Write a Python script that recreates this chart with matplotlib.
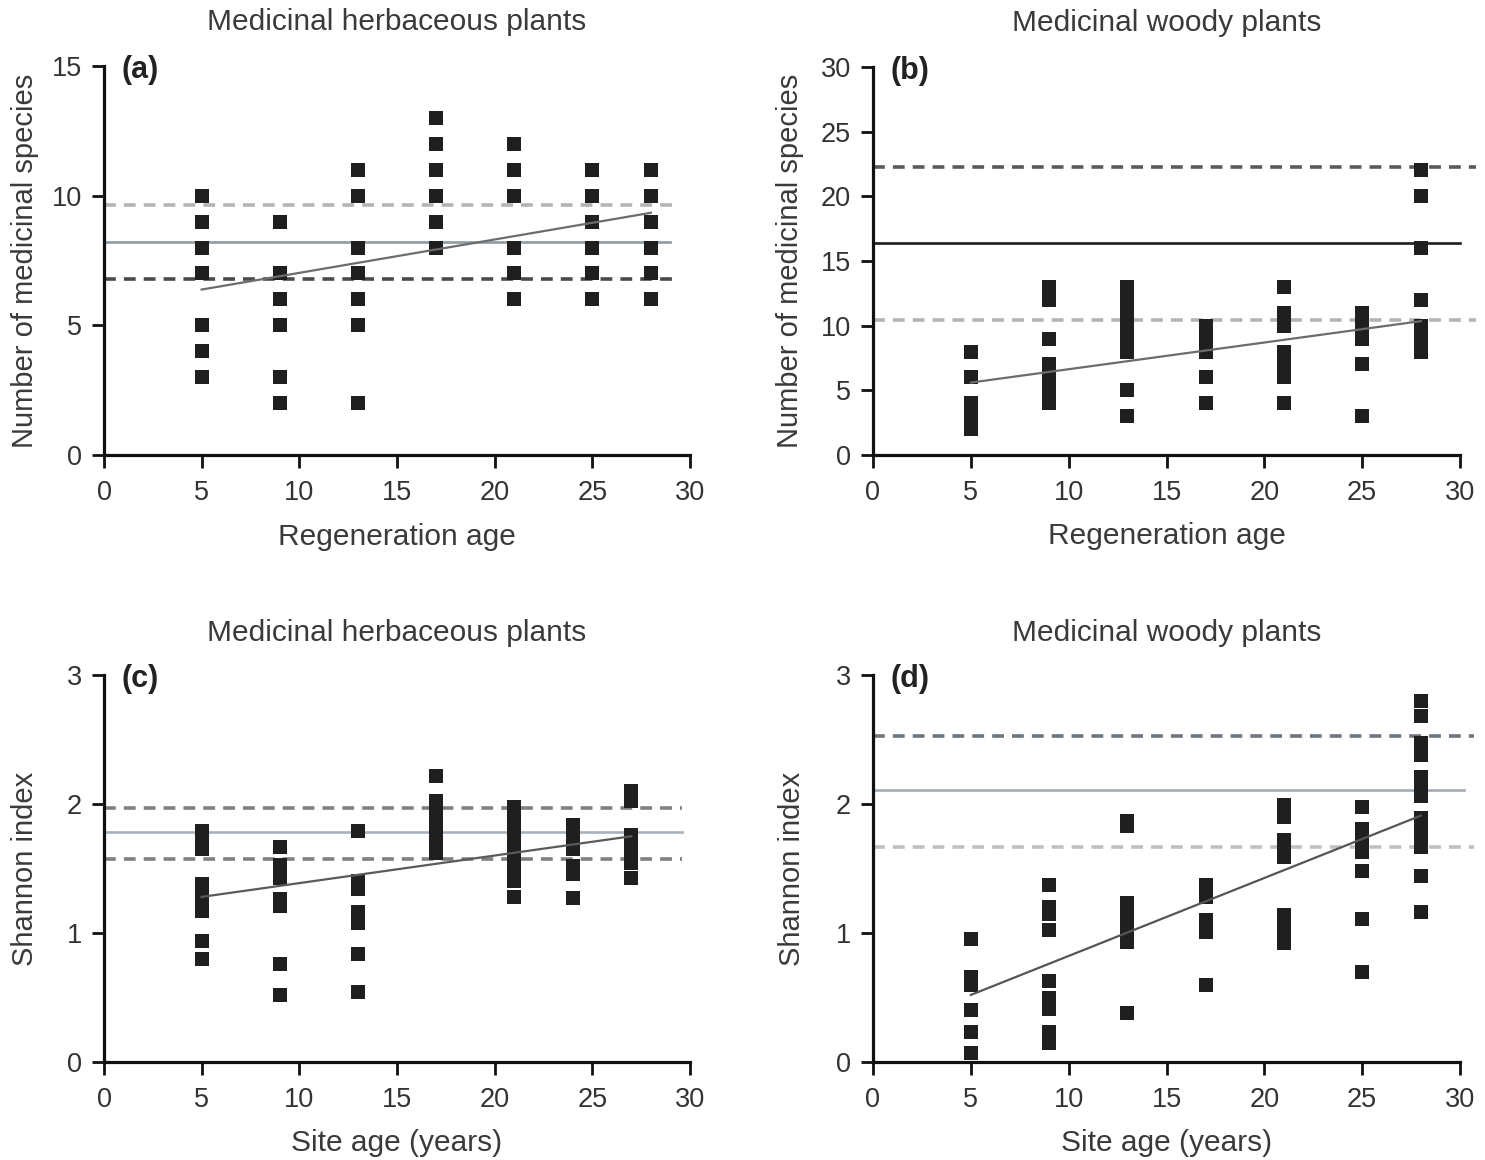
import matplotlib
matplotlib.use("Agg")
import matplotlib.pyplot as plt

plt.rcParams['font.family'] = ['Liberation Sans', 'DejaVu Sans']
plt.rcParams['lines.scale_dashes'] = False

# ---------------- data ----------------
# (a) herbaceous, number of species vs regeneration age
ages_a = [5, 9, 13, 17, 21, 25, 28]
vals_a = [
    [10, 9, 8, 7, 5, 4, 3],
    [9, 7, 6, 5, 3, 2],
    [11, 10, 8, 7, 6, 5, 2],
    [13, 12, 11, 10, 9, 8],
    [12, 11, 10, 8, 7, 6],
    [11, 10, 9, 8, 7, 6],
    [11, 10, 9, 8, 7, 6],
]
hlines_a = [9.64, 8.20, 6.77]          # upper CI, mean, lower CI
reg_x_a = [5, 28]
reg_y_a = [6.38, 9.34]

# (b) woody, number of species vs regeneration age
ages_b = [5, 9, 13, 17, 21, 25, 28]
vals_b = [
    [8, 6, 4, 3, 2],
    [13, 12, 9, 7, 6, 5, 4],
    [13, 12, 11, 10, 9, 8, 5, 3],
    [10, 9, 8, 6, 4],
    [13, 11, 10, 8, 7, 6, 4],
    [11, 10, 9, 7, 3],
    [22, 20, 16, 12, 10, 9, 8],
]
hlines_b = [22.3, 16.4, 10.45]
reg_x_b = [5, 28]
reg_y_b = [5.6, 10.35]

# (c) herbaceous, Shannon index vs site age
ages_c = [5, 9, 13, 17, 21, 24, 27]
vals_c = [
    [1.79, 1.72, 1.65, 1.38, 1.31, 1.24, 1.17, 0.94, 0.80],
    [1.67, 1.53, 1.43, 1.26, 1.21, 0.76, 0.52],
    [1.79, 1.40, 1.34, 1.16, 1.08, 0.84, 0.54],
    [2.22, 2.02, 1.92, 1.82, 1.72, 1.62],
    [1.98, 1.90, 1.83, 1.73, 1.62, 1.51, 1.40, 1.28],
    [1.84, 1.75, 1.65, 1.52, 1.46, 1.27],
    [2.10, 2.02, 1.76, 1.65, 1.54, 1.43],
]
hlines_c = [1.97, 1.78, 1.57]
reg_x_c = [5, 27]
reg_y_c = [1.28, 1.75]

# (d) woody, Shannon index vs site age
ages_d = [5, 9, 13, 17, 21, 25, 28]
vals_d = [
    [0.95, 0.66, 0.60, 0.40, 0.23, 0.07],
    [1.37, 1.20, 1.15, 1.02, 0.63, 0.50, 0.41, 0.23, 0.15],
    [1.87, 1.83, 1.23, 1.13, 1.03, 0.93, 0.38],
    [1.37, 1.28, 1.10, 1.01, 0.60],
    [1.99, 1.90, 1.72, 1.65, 1.59, 1.14, 1.06, 0.99, 0.92],
    [1.98, 1.81, 1.72, 1.63, 1.48, 1.11, 0.70],
    [2.80, 2.68, 2.47, 2.38, 2.21, 2.13, 2.06, 1.89, 1.82, 1.74, 1.67, 1.44, 1.16],
]
hlines_d = [2.53, 2.11, 1.67]
reg_x_d = [5, 28]
reg_y_d = [0.52, 1.91]

titles = ["Medicinal herbaceous plants", "Medicinal woody plants",
          "Medicinal herbaceous plants", "Medicinal woody plants"]
letters = ["(a)", "(b)", "(c)", "(d)"]
xlabels = ["Regeneration age", "Regeneration age",
           "Site age (years)", "Site age (years)"]
ylabels = ["Number of medicinal species", "Number of medicinal species",
           "Shannon index", "Shannon index"]
ylims = [15, 30, 3, 3]
yticks = [[0, 5, 10, 15], [0, 5, 10, 15, 20, 25, 30], [0, 1, 2, 3], [0, 1, 2, 3]]
xticks = [0, 5, 10, 15, 20, 25, 30]

# ---------------- figure ----------------
W, H = 1485, 1160
fig = plt.figure(figsize=(W / 100, H / 100), dpi=100)
fig.patch.set_facecolor('white')

def pos(left, right, top, bottom):
    return [left / W, 1 - bottom / H, (right - left) / W, (bottom - top) / H]

axes = [
    fig.add_axes(pos(104, 690, 66, 455)),
    fig.add_axes(pos(873, 1460, 67, 455)),
    fig.add_axes(pos(104, 690, 675, 1062)),
    fig.add_axes(pos(873, 1460, 675, 1062)),
]

# line styles: (upper, mean, lower)
hstyles = [
    [('#b4b4b4', 'dash'), ('#8e9aa6', 'solid'), ('#4a4a4a', 'dash')],
    [('#5a5a5a', 'dash'), ('#1e1e1e', 'solid'), ('#b4b4b4', 'dash')],
    [('#808080', 'dash'), ('#a8b2bc', 'solid'), ('#808080', 'dash')],
    [('#6e767e', 'dash'), ('#a2abb4', 'solid'), ('#c0c0c0', 'dash')],
]
hx_end = [(29.5, 29.0), (30.8, 30.0), (29.6, 29.6), (30.7, 30.2)]
reg_colors = ['#6c6c6c', '#6c6c6c', '#5a5a5a', '#555555']
ylabel_x = [-0.135, -0.141, -0.135, -0.138]

data = [(ages_a, vals_a, hlines_a, reg_x_a, reg_y_a),
        (ages_b, vals_b, hlines_b, reg_x_b, reg_y_b),
        (ages_c, vals_c, hlines_c, reg_x_c, reg_y_c),
        (ages_d, vals_d, hlines_d, reg_x_d, reg_y_d)]

txt = '#333333'
for i, ax in enumerate(axes):
    ages, vals, hl, rx, ry = data[i]
    ax.set_xlim(0, 30)
    ax.set_ylim(0, ylims[i])
    ax.set_xticks(xticks)
    ax.set_yticks(yticks[i])
    for s in ['top', 'right']:
        ax.spines[s].set_visible(False)
    for s in ['left', 'bottom']:
        ax.spines[s].set_linewidth(2.3)
        ax.spines[s].set_color('#111111')
    ax.tick_params(direction='out', length=9, width=2.0, color='#111111',
                   labelsize=19.5, labelcolor=txt)
    ax.tick_params(axis='x', pad=9)
    ax.tick_params(axis='y', pad=7)

    # horizontal reference lines
    dash_end, solid_end = hx_end[i]
    for (c, st), yv in zip(hstyles[i], hl):
        if st == 'dash':
            ax.plot([0, dash_end], [yv, yv], color=c, lw=2.6,
                    linestyle=(0, (8.5, 5.8)), clip_on=False, zorder=2)
        else:
            ax.plot([0, solid_end], [yv, yv], color=c, lw=1.9,
                    clip_on=False, zorder=2)

    # scatter points
    xs, ys = [], []
    for a, vv in zip(ages, vals):
        for v in vv:
            xs.append(a)
            ys.append(v)
    ax.plot(xs, ys, linestyle='none', marker='s', markersize=10,
            color='#1f1f1f', markeredgewidth=0, clip_on=False, zorder=3)

    # regression line
    ax.plot(rx, ry, color=reg_colors[i], lw=1.6, zorder=4)

    ax.set_xlabel(xlabels[i], fontsize=21.5, color='#3a3a3a')
    ax.xaxis.label.set_va('center')
    ax.xaxis.set_label_coords(0.5, -0.21)
    ax.set_ylabel(ylabels[i], fontsize=21, color='#3a3a3a')
    ax.yaxis.label.set_va('center')
    ax.yaxis.set_label_coords(ylabel_x[i], 0.5)

    off = 44 / 389 if i < 2 else 42 / 387
    ax.text(0.5, 1 + off, titles[i], transform=ax.transAxes, ha='center',
            va='center', fontsize=21.5, color='#3a3a3a')
    ax.text(0.03, 0.99, letters[i], transform=ax.transAxes, ha='left',
            va='center', fontsize=22, fontweight='bold', color='#222222')

fig.savefig('out.png', dpi=100)
